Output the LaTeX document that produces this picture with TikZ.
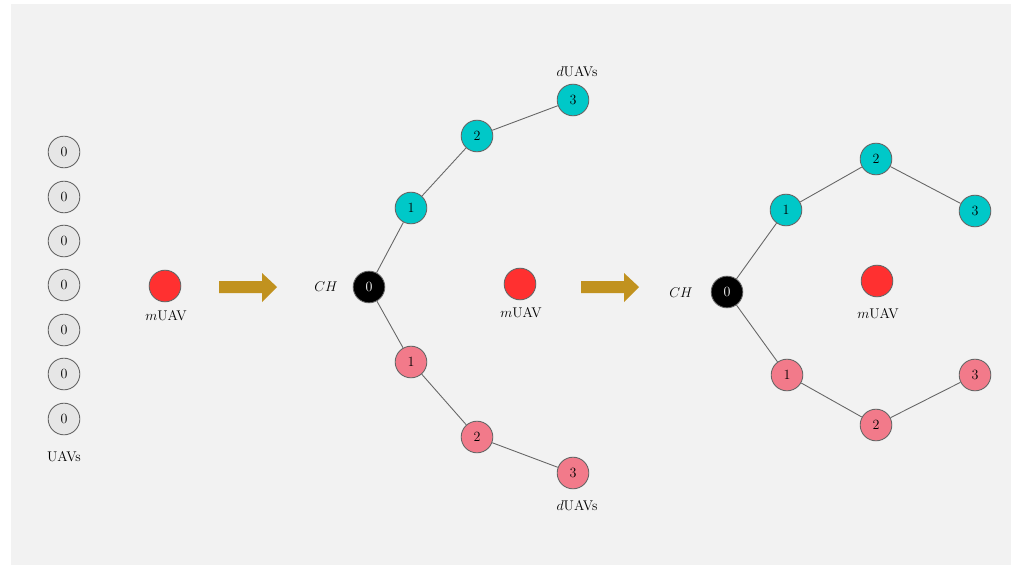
\documentclass[tikz,border=0pt]{standalone}
\definecolor{bggray}{HTML}{F2F2F2}
\definecolor{nodegray}{HTML}{E6E6E6}
\definecolor{bordgray}{HTML}{666666}
\definecolor{ucyan}{HTML}{00C8C8}
\definecolor{upink}{HTML}{F27A8A}
\definecolor{ured}{HTML}{FF3030}
\definecolor{gold}{HTML}{C1921F}
\begin{document}
\begin{tikzpicture}[x=0.03cm,y=-0.03cm,
  uav/.style={circle,draw=bordgray,line width=0.75pt,minimum size=27pt,inner sep=0pt,font=\fontsize{12}{13}\selectfont},
  grayuav/.style={uav,fill=nodegray},
  cyanuav/.style={uav,fill=ucyan},
  pinkuav/.style={uav,fill=upink},
  chuav/.style={uav,fill=black,text=white},
  muav/.style={uav,fill=ured},
  lbl/.style={font=\fontsize{12}{13}\selectfont,inner sep=0pt},
  link/.style={draw=bordgray,line width=0.75pt},
  bigarrow/.style={fill=gold,draw=none}
]
\useasboundingbox (0,0) rectangle (1011,565);
\fill[bggray] (11,4) rectangle (1011,565);

% left column
\foreach \y [count=\i] in {152,197,241,285,330,374,419}
  \node[grayuav] (g\i) at (64,\y) {0};
\node[lbl] (uavs) at (64,457) {UAVs};
\node[muav] (m1) at (165,286) {};
\node[lbl] (m1l) at (166,316) {$m$UAV};

% arrow 1
\fill[bigarrow] (219,281) -- (262,281) -- (262,273) -- (277,287) -- (262,302) -- (262,293) -- (219,293) -- cycle;

% middle tree
\node[lbl] (ch1) at (326,287) {$CH$};
\node[chuav] (c0) at (369,287) {0};
\node[cyanuav] (ca1) at (411,208) {1};
\node[cyanuav] (ca2) at (477,136) {2};
\node[cyanuav] (ca3) at (573,100) {3};
\node[pinkuav] (pa1) at (411,362) {1};
\node[pinkuav] (pa2) at (477,437) {2};
\node[pinkuav] (pa3) at (573,473) {3};
\node[lbl] (dt) at (577,72) {$d$UAVs};
\node[lbl] (db) at (577,506) {$d$UAVs};
\node[muav] (m2) at (520,284) {};
\node[lbl] (m2l) at (521,313) {$m$UAV};
\draw[link] (c0) -- (ca1) -- (ca2) -- (ca3);
\draw[link] (c0) -- (pa1) -- (pa2) -- (pa3);

% arrow 2
\fill[bigarrow] (581,281) -- (624,281) -- (624,273) -- (639,287) -- (624,302) -- (624,293) -- (581,293) -- cycle;

% right tree
\node[lbl] (ch2) at (681,293) {$CH$};
\node[chuav] (d0) at (727,292) {0};
\node[cyanuav] (cb1) at (786,210) {1};
\node[cyanuav] (cb2) at (876,159) {2};
\node[cyanuav] (cb3) at (975,211) {3};
\node[pinkuav] (pb1) at (787,375) {1};
\node[pinkuav] (pb2) at (876,425) {2};
\node[pinkuav] (pb3) at (975,375) {3};
\node[muav] (m3) at (877,281) {};
\node[lbl] (m3l) at (878,314) {$m$UAV};
\draw[link] (d0) -- (cb1) -- (cb2) -- (cb3);
\draw[link] (d0) -- (pb1) -- (pb2) -- (pb3);
\end{tikzpicture}
\end{document}
